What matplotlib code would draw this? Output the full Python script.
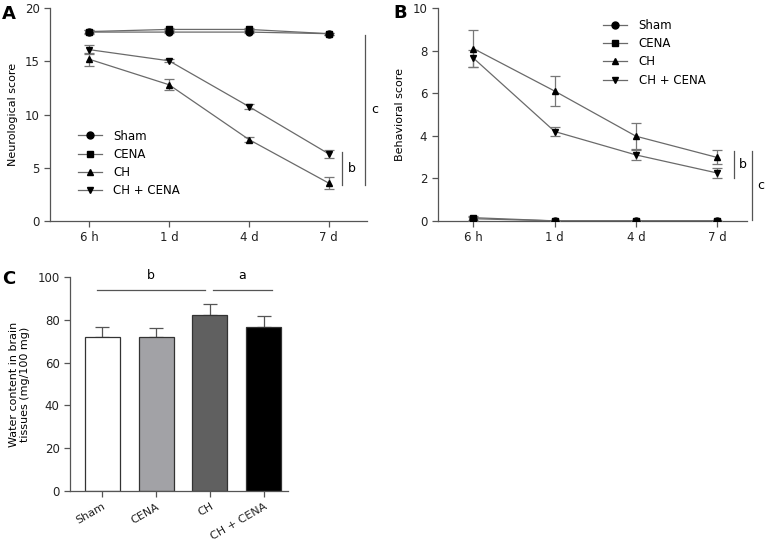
import numpy as np
import matplotlib
matplotlib.use("Agg")
import matplotlib.pyplot as plt
from matplotlib.lines import Line2D

plt.rcParams['font.family'] = ['DejaVu Sans']
plt.rcParams['font.size'] = 8.5

times = ["6 h", "1 d", "4 d", "7 d"]
groups = ["Sham", "CENA", "CH", "CH + CENA"]
markers = ["o", "s", "^", "v"]

# panel A - neurological score
neuro_sham = [17.75, 17.75, 17.75, 17.6]
neuro_cena = [17.8, 18.0, 18.0, 17.6]
neuro_ch = [15.2, 12.8, 7.65, 3.55]
neuro_chcena = [16.1, 15.05, 10.75, 6.3]
neuro_sham_err = [0.15, 0.1, 0.1, 0.1]
neuro_cena_err = [0.15, 0.1, 0.1, 0.1]
neuro_ch_err = [0.6, 0.5, 0.2, 0.6]
neuro_chcena_err = [0.4, 0.15, 0.2, 0.4]

# panel B - behavioral score
behav_sham = [0.1, 0.0, 0.0, 0.0]
behav_cena = [0.15, 0.0, 0.0, 0.0]
behav_ch = [8.1, 6.1, 3.98, 2.98]
behav_chcena = [7.65, 4.2, 3.1, 2.25]
behav_sham_err = [0.1, 0.0, 0.0, 0.0]
behav_cena_err = [0.1, 0.0, 0.0, 0.0]
behav_ch_err = [0.85, 0.7, 0.6, 0.33]
behav_chcena_err = [0.4, 0.2, 0.25, 0.25]

# panel C - water content
water = [72.0, 71.7, 82.0, 76.8]
water_err = [4.4, 4.5, 5.5, 4.8]
bar_colors = ["#ffffff", "#a2a2a6", "#606060", "#000000"]

line_col = "#6a6a6a"
spine_col = "#555555"


def style_axes(ax):
    for s in ["top", "right"]:
        ax.spines[s].set_visible(False)
    for s in ["left", "bottom"]:
        ax.spines[s].set_color(spine_col)
        ax.spines[s].set_linewidth(0.9)
    ax.tick_params(colors="#222222", length=4, width=0.9, color=spine_col)


def line_panel(ax, series, errs):
    x = np.arange(len(times))
    for y, e, m in zip(series, errs, markers):
        ax.errorbar(x, y, yerr=e, color=line_col, lw=0.9, ecolor="#777777",
                    elinewidth=0.9, capsize=3.5, capthick=0.9,
                    marker=m, ms=5, mfc="black", mec="black", zorder=3)
    ax.set_xticks(x)
    ax.set_xticklabels(times)
    style_axes(ax)


def legend_handles():
    return [Line2D([0], [0], color=line_col, lw=0.9, marker=m, ms=5,
                   mfc="black", mec="black") for m in markers]


def bracket(ax, x, y0, y1, label, tx):
    ax.plot([x, x], [y0, y1], color="#555555", lw=0.9, clip_on=False)
    ax.text(tx, (y0 + y1) / 2, label, ha="center", va="center", fontsize=9)


fig = plt.figure(figsize=(7.72, 5.44), dpi=100)

# A
axA = fig.add_axes([0.0648, 0.594, 0.4102, 0.391])
line_panel(axA, [neuro_sham, neuro_cena, neuro_ch, neuro_chcena],
           [neuro_sham_err, neuro_cena_err, neuro_ch_err, neuro_chcena_err])
axA.set_xlim(-0.49, 3.475)
axA.set_ylim(0, 20)
axA.set_yticks([0, 5, 10, 15, 20])
axA.set_ylabel("Neurological score", fontsize=8, labelpad=5)
axA.legend(legend_handles(), groups, loc="lower left", bbox_to_anchor=(0.055, 0.06),
           frameon=False, handlelength=2.0, handletextpad=1.0, labelspacing=0.45, fontsize=8.5)
bracket(axA, 3.16, 6.5, 3.4, "b", 3.29)
bracket(axA, 3.45, 17.5, 3.4, "c", 3.575)

# B
axB = fig.add_axes([0.567, 0.594, 0.401, 0.391])
line_panel(axB, [behav_sham, behav_cena, behav_ch, behav_chcena],
           [behav_sham_err, behav_cena_err, behav_ch_err, behav_chcena_err])
axB.set_xlim(-0.44, 3.37)
axB.set_ylim(0, 10)
axB.set_yticks([0, 2, 4, 6, 8, 10])
axB.set_ylabel("Behavioral score", fontsize=8, labelpad=5)
axB.legend(legend_handles(), groups, loc="upper left", bbox_to_anchor=(0.5, 1.0),
           frameon=False, handlelength=2.0, handletextpad=1.0, labelspacing=0.45, fontsize=8.5)
bracket(axB, 3.21, 3.3, 2.0, "b", 3.32)
bracket(axB, 3.43, 3.3, 0.05, "c", 3.54)

# C
axC = fig.add_axes([0.0907, 0.0974, 0.2823, 0.3936])
xc = np.arange(len(groups))
axC.bar(xc, water, width=0.65, color=bar_colors, edgecolor="#333333", linewidth=0.9, zorder=2)
axC.errorbar(xc, water, yerr=[np.zeros(len(water)), water_err], fmt="none",
             ecolor="#555555", elinewidth=0.9, capsize=5, capthick=0.9, zorder=1)
axC.set_xlim(-0.6, 3.45)
axC.set_ylim(0, 100)
axC.set_yticks([0, 20, 40, 60, 80, 100])
axC.set_xticks(xc)
axC.set_xticklabels(groups, rotation=30, ha="right", rotation_mode="anchor", fontsize=8)
axC.set_ylabel("Water content in brain\ntissues (mg/100 mg)", fontsize=8, labelpad=5)
style_axes(axC)
axC.plot([-0.1, 1.9], [94, 94], color="#555555", lw=0.9, clip_on=False)
axC.plot([2.05, 3.15], [94, 94], color="#555555", lw=0.9, clip_on=False)
axC.text(0.9, 97.5, "b", ha="center", va="bottom", fontsize=9)
axC.text(2.6, 97.5, "a", ha="center", va="bottom", fontsize=9)

fig.text(0.003, 0.975, "A", fontsize=13, fontweight="bold", va="center")
fig.text(0.51, 0.977, "B", fontsize=13, fontweight="bold", va="center")
fig.text(0.003, 0.487, "C", fontsize=13, fontweight="bold", va="center")

fig.savefig("out.png", dpi=100)
